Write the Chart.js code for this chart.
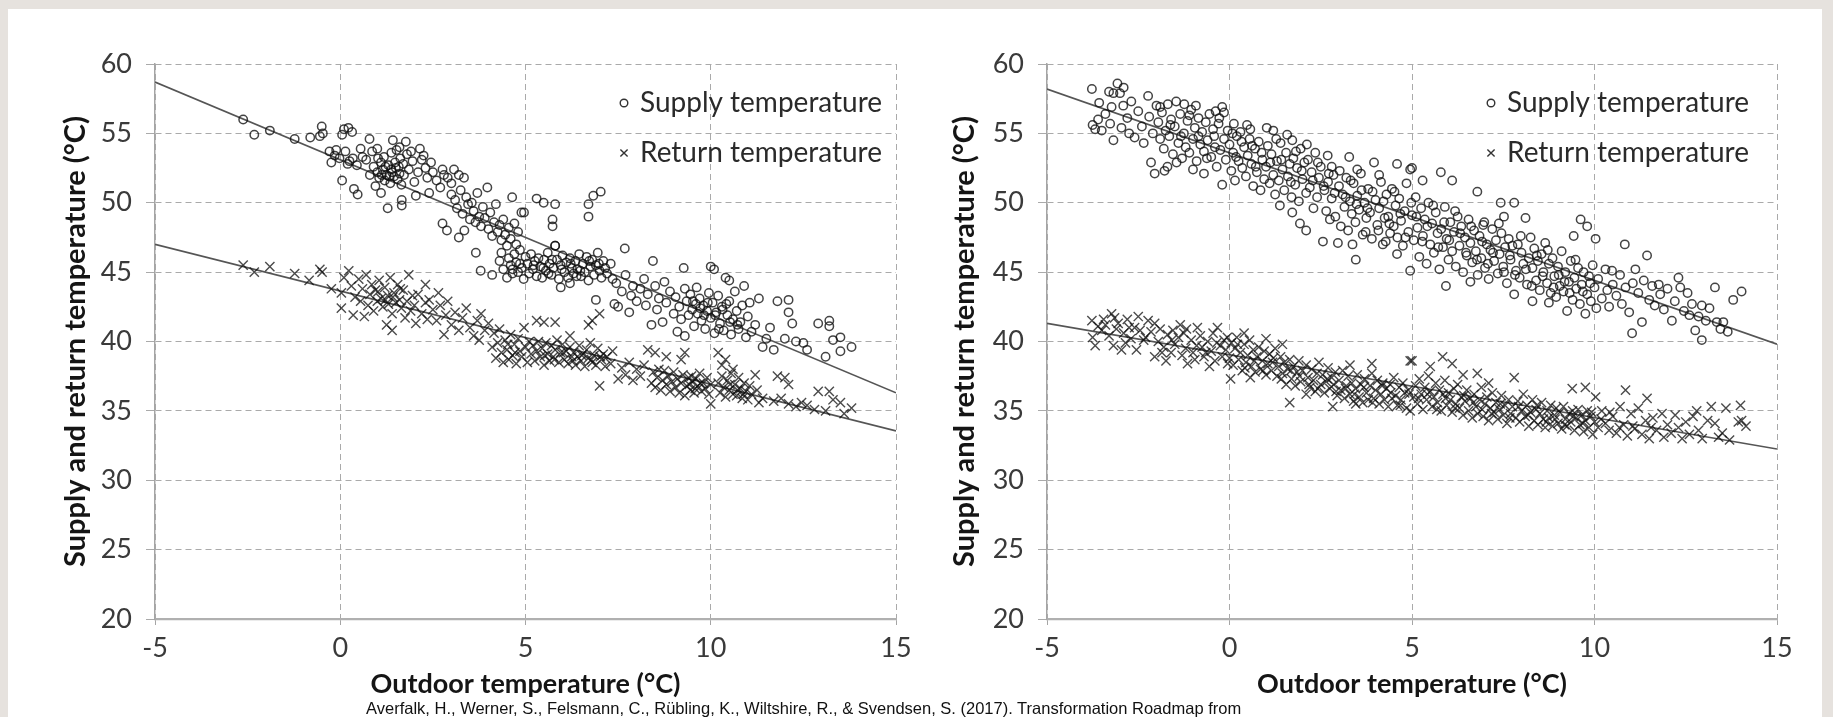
<!DOCTYPE html>
<html>
<head>
<meta charset="utf-8">
<script src="https://cdn.jsdelivr.net/npm/chart.js@4.4.1/dist/chart.umd.min.js"></script>
<style>
  html, body { margin: 0; padding: 0; }
  body { width: 1833px; height: 717px; overflow: hidden; background: #e6e2de; position: relative; }
  #panel { position: absolute; left: 8px; top: 9px; width: 1814px; height: 720px; background: #fff; }
  canvas { position: absolute; left: 0; top: 0; }
  #caption { position: absolute; left: 366px; top: 699px; font: 16.5px "Liberation Sans", Arial, sans-serif; color: #111; white-space: nowrap; }
</style>
</head>
<body>
<div id="panel"></div>
<canvas id="leftChart" width="1833" height="717"></canvas>
<canvas id="rightChart" width="1833" height="717"></canvas>
<div id="caption">Averfalk, H., Werner, S., Felsmann, C., Rübling, K., Wiltshire, R., &amp; Svendsen, S. (2017). Transformation Roadmap from</div>
<script>
// 軸の目盛り
const xTicks = [-5, 0, 5, 10, 15];
const yTicks = [20, 25, 30, 35, 40, 45, 50, 55, 60];
const seriesNames = ['Supply temperature', 'Return temperature'];

// 左のグラフ: 供給温度 (外気温, 温度)
const leftSupply = [
  [-2.62,56.0],[-2.32,54.9],[-1.9,55.2],[-1.23,54.6],[-0.81,54.7],[-0.5,55.5],[-0.47,55.0],[-0.55,54.8],
  [0.05,54.9],[0.22,55.4],[0.32,55.1],[0.1,55.3],[-0.29,53.7],[-0.11,53.8],[-0.24,52.9],[-0.02,53.2],[0.14,53.7],
  [0.34,53.2],[0.55,53.9],[0.79,54.6],[0.86,53.7],[0.2,52.8],[0.45,52.7],[-0.15,53.4],[0.05,51.6],[0.37,51.0],
  [0.47,50.6],[0.25,53.0],[0.6,53.3],
  [0.7,53.1],[0.9,52.6],[1.0,52.2],[1.05,51.8],[1.1,52.9],[1.15,52.4],[1.2,51.6],[1.25,52.0],[1.3,52.7],[1.35,51.4],
  [1.4,52.2],[1.42,54.5],[1.45,51.9],[1.5,52.5],[1.55,51.7],[1.6,52.1],[1.62,53.2],[1.65,51.3],[1.7,52.8],[1.72,52.0],
  [1.77,54.4],[1.8,53.5],[1.85,52.4],[1.91,53.7],[1.95,53.0],[1.28,49.6],[1.66,50.2],[1.66,49.8],[1.1,50.7],[0.95,51.2],
  [1.38,53.6],[1.0,53.9],[1.18,53.3],[1.52,53.8],[0.8,52.0],[1.6,54.0],
  [1.12,52.0],[1.32,51.9],[1.48,52.9],[1.22,52.6],[1.58,52.6],[1.38,52.4],[1.02,53.2],
  [2.04,50.5],[2.4,50.7],[2.0,51.5],[2.1,52.2],[2.2,53.1],[2.3,52.5],[2.45,52.9],[2.35,51.8],[2.5,52.2],[2.76,52.4],
  [3.07,52.4],[2.6,51.6],[2.7,51.1],[2.9,51.8],[2.8,52.0],[3.0,51.4],[3.2,52.0],[3.34,51.8],[2.15,53.9],[2.25,53.4],
  [2.76,48.5],[2.88,48.0],[3.0,50.6],[3.1,50.2],[3.15,49.6],[3.25,50.9],[3.3,49.2],[3.4,50.4],[3.45,49.9],[3.5,48.8],
  [3.55,50.0],[3.6,49.4],[3.65,48.6],[3.7,50.7],[3.75,49.0],[3.8,48.3],[3.85,49.7],[3.9,48.9],[3.97,51.1],[4.0,48.1],
  [4.05,49.3],[4.1,47.6],[4.15,48.6],[4.2,49.9],[4.25,47.9],[4.3,48.4],[4.35,47.3],[4.4,48.8],[4.45,47.7],[4.5,46.9],
  [4.55,48.2],[4.64,50.4],[4.6,47.4],[4.7,48.5],[4.89,49.3],[4.75,47.0],[4.8,47.9],[3.2,47.5],[3.35,48.0],
  [3.66,46.4],[3.79,45.1],[4.1,44.8],[4.3,45.8],[4.35,46.4],[4.4,45.2],[4.5,44.6],[4.55,46.0],[4.6,45.5],[4.65,44.9],
  [4.7,46.3],[4.75,45.7],[4.8,45.0],[4.85,46.6],[4.9,45.3],[4.95,44.5],[5.0,46.1],[5.05,45.6],[5.1,44.9],
  [4.65,45.2],[4.85,45.6],
  [5.15,46.3],[5.2,45.2],[5.25,45.8],[5.3,44.7],[5.35,46.0],[5.4,45.4],[5.45,44.6],[5.5,45.9],[5.55,45.1],[5.6,46.4],
  [5.65,45.6],[5.7,44.8],[5.75,45.3],[5.8,46.9],[5.85,45.9],[5.9,44.5],[5.95,45.5],[6.0,46.2],[6.05,45.0],[6.1,45.7],
  [6.15,44.6],[6.2,46.0],[6.25,45.3],[6.3,44.9],[6.35,45.8],[6.4,45.2],[6.45,46.3],[6.5,44.7],[6.55,45.6],[6.6,45.0],
  [6.65,46.1],[6.7,44.4],[6.75,45.4],[6.8,45.9],[6.85,44.8],[6.9,45.5],[6.95,46.4],[7.0,45.1],[7.05,44.6],[7.1,45.8],
  [7.15,45.3],[7.2,44.9],[7.3,45.6],[7.35,44.5],[6.2,44.2],[5.95,43.9],
  [5.22,45.5],[5.48,45.3],[5.72,45.9],[5.98,45.2],[6.22,45.6],[6.48,45.1],[6.72,45.8],[6.98,45.6],[6.38,44.7],[5.62,44.9],
  [5.3,50.3],[5.49,50.0],[5.8,49.9],[5.73,48.8],[5.73,48.3],[6.7,49.0],[6.7,49.9],[6.83,50.5],[7.03,50.8],[7.68,46.7],
  [4.96,49.3],[5.8,46.9],
  [6.9,43.0],[7.4,42.7],[7.5,42.5],[7.8,42.1],[7.45,44.2],[7.6,43.6],[7.7,44.8],[7.85,43.3],[7.9,44.0],[8.0,42.9],
  [8.1,43.8],[8.2,44.5],[8.25,42.6],[8.3,43.4],[8.44,45.8],[8.4,41.2],[8.5,44.0],[8.55,42.3],[8.6,43.1],[8.7,41.4],
  [8.75,44.3],[8.8,42.8],
  [8.9,43.6],[9.0,42.0],[9.05,43.2],[9.1,40.7],[9.15,42.5],[9.2,41.6],[9.27,45.3],[9.3,40.4],[9.3,43.8],[9.35,42.9],
  [9.4,41.9],[9.45,43.4],[9.5,42.3],[9.55,41.1],[9.6,42.7],[9.62,43.9],[9.65,42.0],[9.7,43.1],[9.75,41.5],[9.8,42.6],
  [9.85,40.9],[9.9,42.2],[9.95,43.5],[10.0,45.4],[10.09,45.2],[10.0,41.7],[10.05,42.8],[10.1,40.6],[10.15,42.1],
  [10.2,43.3],[10.25,41.3],[10.3,42.5],[10.35,40.8],[10.4,44.6],[10.5,44.4],[10.45,41.9],[10.5,42.9],[10.55,40.5],
  [10.6,41.6],[10.65,43.6],[10.7,42.2],[10.75,40.9],[10.8,41.4],[10.9,44.0],[10.85,42.6],[10.95,40.3],[11.0,41.8],
  [11.05,42.8],[11.1,40.7],[11.2,41.2],[11.3,43.1],[11.4,39.6],[11.5,40.2],[11.7,39.4],
  [9.52,42.9],[9.72,42.4],[9.92,42.8],[10.12,41.9],[10.32,42.3],[10.52,41.4],[10.72,41.2],[9.82,41.9],[10.42,42.7],
  [10.22,40.9],
  [11.8,42.9],[12.1,43.0],[12.1,42.1],[12.0,40.2],[12.3,40.0],[12.5,39.9],[12.6,39.4],[12.9,41.3],[13.2,41.5],
  [13.2,41.1],[13.3,40.1],[13.5,40.3],[13.5,39.3],[13.8,39.6],[13.1,38.9],[11.6,41.0],[12.2,41.3]
];

// 左のグラフ: 戻り温度
const leftReturn = [
  [-2.62,45.5],[-2.32,45.0],[-1.9,45.4],[-1.23,44.9],[-0.84,44.4],[-0.49,45.0],[-0.55,45.2],[-0.24,43.8],
  [0.03,43.5],[0.03,42.4],[0.23,45.1],[0.1,44.6],[0.3,44.0],[0.4,43.2],[0.5,44.5],[0.55,42.9],[0.6,43.8],[0.65,41.8],
  [0.7,44.8],[0.75,42.6],[0.8,43.4],[0.85,44.1],[0.9,42.2],[0.95,43.7],[1.0,42.9],[1.05,44.4],[1.1,43.1],[1.15,42.5],
  [1.2,43.9],[1.25,41.2],[1.28,43.3],[1.3,42.7],[1.35,44.6],[1.4,42.0],[1.45,43.5],[1.5,42.8],[1.55,44.1],[1.6,43.0],
  [1.65,42.4],[1.7,43.7],[1.75,41.7],[1.8,42.9],[1.85,44.8],[1.9,42.2],[1.95,43.3],[2.04,41.3],[2.0,42.6],
  [1.02,43.6],[1.22,43.0],[1.42,43.2],[1.62,43.8],
  [2.1,43.4],[2.2,42.0],[2.3,42.8],[2.35,41.6],[2.4,43.0],[2.5,42.3],[2.6,41.5],[2.7,42.6],[2.8,40.5],[2.85,41.9],
  [2.9,42.9],[3.0,41.2],[3.1,42.1],[3.2,40.8],[3.3,41.7],[3.4,42.4],[3.5,41.0],[3.6,40.4],[3.7,41.5],[3.75,40.1],
  [3.8,42.0],[3.9,40.8],[4.0,41.3],[2.3,44.1],[2.65,43.5],[0.35,41.9],[1.4,40.8],
  [4.1,39.6],[4.15,40.6],[4.2,38.8],[4.25,39.9],[4.3,40.9],[4.35,39.2],[4.4,38.5],[4.45,40.1],[4.5,39.4],[4.55,38.7],
  [4.6,40.5],[4.65,39.0],[4.7,39.8],[4.75,38.4],[4.8,40.2],[4.85,39.3],[4.9,38.9],[4.96,41.0],[5.0,39.6],[5.05,38.5],
  [5.1,40.0],[5.15,39.1],[4.52,39.8],[4.72,39.2],
  [5.3,41.5],[5.5,41.4],[5.8,41.4],[6.7,41.2],[6.8,41.5],[7.0,42.0],[6.2,40.4],
  [5.2,39.7],[5.25,38.6],[5.3,39.3],[5.35,40.0],[5.4,38.9],[5.45,39.5],[5.5,38.3],[5.55,39.9],[5.6,39.1],[5.65,38.6],
  [5.7,39.7],[5.75,38.9],[5.8,39.4],[5.85,40.1],[5.9,38.5],[5.95,39.2],[6.0,39.8],[6.05,38.7],[6.1,39.3],[6.15,38.4],
  [6.2,39.6],[6.25,38.9],[6.3,39.2],[6.35,38.3],[6.4,38.9],[6.45,39.7],[6.5,38.6],[6.55,39.1],[6.6,38.2],[6.65,39.4],
  [6.7,38.8],[6.75,39.9],[6.8,38.5],[6.85,39.0],[6.9,38.3],[6.95,39.5],[7.0,36.8],[7.05,38.7],[7.1,39.1],[7.15,38.2],
  [7.2,38.9],[7.3,38.4],[7.5,37.3],[7.35,39.3],
  [5.52,39.0],[5.78,38.7],[6.02,39.2],[6.28,38.6],[6.52,39.0],[6.78,38.7],[7.02,38.9],
  [7.6,38.1],[7.7,37.6],[7.8,38.5],[7.9,37.2],[8.0,38.0],[8.1,37.5],[8.2,38.3],[8.3,39.4],[8.5,39.2],[8.8,38.9],
  [9.2,38.7],[9.3,39.2],[8.4,37.0],[8.45,37.8],[8.5,36.7],[8.55,37.4],[8.6,38.0],[8.65,36.5],[8.7,37.2],[8.75,37.9],
  [8.8,36.9],[8.85,37.5],[8.9,36.4],[8.95,37.1],[9.0,37.8],[9.05,36.7],[9.1,37.3],[9.15,36.3],[9.2,37.0],[9.25,37.6],
  [9.3,36.1],[9.35,36.8],[9.4,37.4],[9.45,36.5],[9.5,37.1],[9.55,36.3],[9.6,37.3],[9.65,36.8],[9.7,37.7],[9.75,36.4],
  [9.8,37.0],[9.85,36.6],[9.9,37.4],[9.95,36.2],[10.0,35.5],[10.0,36.9],
  [9.42,36.9],[9.58,36.6],[9.72,37.0],[9.48,37.5],
  [10.2,39.2],[10.4,38.7],[10.2,37.0],[10.25,36.3],[10.3,37.5],[10.35,36.7],[10.4,36.0],[10.45,37.2],[10.5,36.5],
  [10.55,37.7],[10.6,36.2],[10.65,36.9],[10.7,36.1],[10.75,37.4],[10.8,36.6],[10.85,35.9],[10.9,37.0],[10.95,36.4],
  [11.0,35.8],[11.05,36.8],[11.1,36.2],[11.2,37.6],[11.3,35.6],[11.25,36.5],[11.4,35.9],[10.3,38.3],[10.6,38.0],
  [10.52,36.9],[10.72,36.5],[10.88,36.2],
  [11.7,35.7],[11.8,37.5],[12.0,37.4],[12.1,36.9],[12.1,35.5],[12.3,35.3],[12.6,35.4],[12.45,35.6],[12.9,36.4],
  [13.2,36.4],[13.3,35.8],[13.5,35.6],[13.8,35.2],[13.1,35.0],[13.6,34.8],[12.8,35.1],[11.9,35.9]
];

// 右のグラフ: 供給温度
const rightSupply = [
  [-3.77,58.2],[-3.07,58.6],[-3.18,57.9],[-3.0,57.9],[-3.57,57.2],[-3.23,56.9],[-2.91,57.0],[-2.69,57.3],[-2.23,57.7],
  [-3.68,55.3],[-3.5,55.2],[-3.18,54.5],[-2.6,54.7],[-3.6,56.0],[-3.27,55.7],[-2.96,55.4],[-3.4,56.4],[-2.8,56.1],
  [-2.5,56.6],[-2.4,55.5],[-2.2,56.2],[-2.1,55.0],[-2.35,54.3],[-2.0,57.0],[-2.9,58.3],[-3.3,58.0],[-2.75,55.0],
  [-3.75,55.6],[-2.15,52.9],[-2.05,52.1],[-1.78,52.3],
  [-1.95,55.8],[-1.9,54.6],[-1.85,56.5],[-1.8,53.9],[-1.75,55.2],[-1.69,57.1],[-1.65,54.8],[-1.6,56.0],[-1.55,53.5],
  [-1.5,55.5],[-1.46,57.3],[-1.4,54.3],[-1.35,56.4],[-1.3,53.2],[-1.25,55.0],[-1.24,57.1],[-1.2,54.0],[-1.15,55.9],
  [-1.1,53.6],[-1.05,56.7],[-1.0,54.6],[-0.95,55.4],[-0.92,57.0],[-0.9,53.0],[-0.85,56.1],[-0.8,54.2],[-0.75,55.1],
  [-0.7,52.1],[-0.7,53.7],[-0.65,55.8],[-0.6,54.5],[-0.55,56.4],[-0.5,53.3],[-0.45,55.3],[-0.4,54.0],[-0.38,56.6],
  [-0.35,52.6],[-0.3,55.7],[-0.25,53.8],[-0.2,56.9],[-0.2,51.3],[-0.15,56.5],[-0.15,54.6],[-0.1,53.1],[-0.05,55.2],
  [-1.7,52.6],[-1.45,52.9],[-1.0,52.4],
  [-1.9,56.9],[-1.62,55.6],[-1.33,54.8],[-1.1,56.3],[-0.85,54.8],[-0.62,53.2],[-0.42,54.8],[-0.28,56.1],
  [0.0,54.2],[0.05,52.3],[0.1,53.6],[0.12,55.7],[0.15,51.6],[0.2,54.8],[0.25,53.0],[0.3,55.1],[0.35,52.5],[0.4,54.0],
  [0.45,51.9],[0.5,53.4],[0.55,54.6],[0.57,55.3],[0.6,52.8],[0.65,51.2],[0.7,53.9],[0.75,52.2],[0.8,54.4],[0.85,50.9],
  [0.9,53.1],[0.95,51.7],[1.0,52.6],[1.05,54.1],[1.1,51.4],[1.15,53.5],[1.2,55.2],[1.2,52.0],[1.25,50.6],[1.3,53.0],
  [1.35,51.6],[1.38,49.8],[1.4,54.3],[1.45,52.4],[1.5,50.9],[1.55,53.6],[1.6,51.9],[1.65,52.8],[1.7,50.4],[1.72,54.5],
  [1.72,49.3],[1.75,53.2],[1.8,51.3],[1.85,52.5],[1.9,50.1],[1.93,48.5],[1.95,53.9],[2.0,51.7],[2.05,52.9],[2.1,48.0],
  [2.1,50.7],[2.15,53.1],[2.2,51.1],[2.25,52.2],[2.3,49.6],[2.35,53.6],[2.4,50.4],[2.45,51.8],[2.5,52.6],
  [0.08,55.0],[0.18,53.3],[0.33,54.4],[0.48,55.6],[0.62,54.1],[0.72,52.6],[0.88,53.6],[1.02,55.4],[1.12,52.9],
  [1.28,54.6],[1.42,53.1],[1.58,54.9],[1.68,51.5],[1.82,53.7],[1.98,52.3],[2.12,54.2],[2.28,51.6],[2.42,52.9],
  [2.56,47.2],[2.6,50.9],[2.65,49.4],[2.69,53.4],[2.7,51.5],[2.75,48.8],[2.8,50.3],[2.85,52.0],[2.9,49.0],[2.97,47.1],
  [3.0,51.2],[3.05,48.3],[3.1,50.6],[3.15,49.7],[3.2,51.8],[3.25,48.0],[3.28,53.3],[3.3,50.1],[3.35,49.2],[3.37,47.0],
  [3.4,51.4],[3.45,48.6],[3.46,45.9],[3.5,50.5],[3.55,49.5],[3.6,52.1],[3.65,47.7],[3.7,50.0],[3.73,47.9],[3.75,48.9],
  [3.8,51.0],[3.85,49.3],[3.9,47.4],[3.96,52.9],[4.0,50.2],[4.05,48.4],[4.1,49.6],[4.15,51.5],[4.2,47.0],[4.25,48.9],
  [4.28,47.2],[4.3,50.6],[4.35,49.0],[4.4,47.8],[4.45,51.0],[4.5,48.3],[4.55,49.8],[4.59,52.8],[4.59,46.3],[4.6,47.5],
  [4.65,50.3],[4.7,48.7],[4.75,46.9],[4.8,49.4],[4.85,51.4],[4.9,47.9],[4.95,52.4],[4.95,45.1],[5.0,52.5],[5.0,49.1],
  [2.8,52.6],[3.5,52.4],[4.1,52.0],
  [2.58,51.2],[2.72,52.1],[2.88,50.7],[3.02,52.3],[3.18,50.4],[3.32,51.6],[3.48,49.9],[3.62,50.9],[3.78,49.6],
  [3.92,50.8],[4.08,48.0],[4.22,50.1],[4.38,48.5],[4.52,50.8],[4.68,49.2],[4.82,47.5],[4.98,50.0],
  [5.05,47.3],[5.1,50.4],[5.15,48.2],[5.2,46.1],[5.25,49.6],[5.29,51.6],[5.3,47.6],[5.35,48.8],[5.4,45.6],[5.45,50.0],
  [5.5,47.0],[5.55,48.5],[5.6,46.4],[5.65,49.3],[5.7,47.8],[5.75,45.2],[5.79,52.2],[5.8,48.1],[5.85,46.8],[5.9,49.7],
  [5.93,44.0],[5.95,47.4],[6.0,45.9],[6.05,48.6],[6.1,51.6],[6.1,46.5],[6.15,47.9],[6.2,45.4],[6.25,49.0],[6.3,46.9],
  [6.35,48.3],[6.4,45.0],[6.45,47.5],[6.5,46.2],[6.55,48.8],[6.6,44.3],[6.6,47.1],[6.65,45.7],[6.7,48.0],[6.75,46.5],
  [6.79,50.8],[6.8,44.8],[6.85,47.6],[6.9,46.0],[6.95,48.4],[6.98,48.6],[7.0,45.3],[7.05,47.0],[7.1,44.5],[7.15,46.6],
  [7.2,48.1],[7.25,45.8],[7.3,47.3],[7.35,44.9],[7.43,50.0],[7.4,46.3],[7.45,47.8],[7.5,45.4],[7.52,49.0],[7.55,46.8],
  [7.6,44.2],[7.65,47.4],[7.7,45.9],[7.75,46.9],[7.8,50.0],[7.8,43.4],[7.85,45.1],[7.9,47.0],[7.95,44.6],[8.0,46.4],
  [8.05,45.6],[8.11,48.9],[8.15,44.1],[8.2,46.0],[8.25,47.5],[8.3,42.9],[8.3,45.3],[8.35,46.7],[8.4,44.4],[8.45,45.8],
  [8.5,43.7],[8.55,46.3],[8.6,45.0],[8.65,47.1],[8.7,44.2],[8.75,42.8],[8.75,45.6],[8.8,43.5],[8.85,46.0],[8.9,44.7],
  [8.95,43.2],[9.0,45.4],[9.05,44.0],[9.1,46.5],[9.15,43.6],[9.2,45.0],[9.25,42.2],[9.3,44.3],[9.35,45.8],[9.4,43.0],
  [9.43,47.6],[9.45,44.6],[9.5,43.8],[9.55,45.3],[9.62,48.8],[9.6,42.7],[9.65,44.1],[9.7,45.0],[9.75,42.0],[9.8,48.3],
  [9.8,43.4],[9.85,44.7],[9.9,42.9],[9.95,45.5],[10.0,43.9],[10.03,47.4],[10.05,42.4],
  [5.12,49.0],[5.28,47.2],[5.42,48.3],[5.58,49.8],[5.72,46.8],[5.88,48.6],[6.02,47.3],[6.18,49.4],[6.32,47.8],
  [6.48,46.4],[6.62,48.3],[6.78,45.9],[6.92,47.2],[7.08,45.6],[7.22,46.4],[7.38,48.5],[7.52,45.0],[7.68,46.2],
  [7.82,44.8],[7.98,47.6],[8.12,45.2],[8.28,44.0],[8.42,46.2],[8.58,44.7],[8.72,46.6],[8.88,43.9],[9.02,44.8],
  [9.18,44.3],[9.32,43.5],[9.48,45.9],[9.68,43.6],[9.88,44.2],
  [10.1,44.5],[10.2,43.1],[10.3,45.2],[10.35,43.7],[10.4,42.5],[10.48,45.1],[10.5,44.1],[10.6,43.3],[10.7,44.8],
  [10.75,42.7],[10.83,47.0],[10.85,43.9],[10.95,42.1],[11.03,40.6],[11.05,44.2],[11.12,45.2],[11.2,43.5],[11.3,41.4],
  [11.35,44.4],[11.44,46.2],[11.5,43.0],[11.58,44.0],[11.65,42.6],[11.76,44.1],[11.8,43.4],[11.9,42.3],[12.0,43.8],
  [12.12,41.5],[12.2,42.9],[12.3,44.6],[12.35,43.9],[12.45,42.2],[12.55,43.5],[12.67,42.7],[12.76,40.8],[12.85,41.8],
  [12.94,42.6],[12.94,40.1],[13.05,41.5],[13.15,42.4],[13.3,43.9],[13.35,41.4],[13.53,41.4],[13.65,40.7],[13.8,43.0],
  [14.03,43.6],[13.45,40.9],[12.6,41.9]
];

// 右のグラフ: 戻り温度
const rightReturn = [
  [-3.77,41.5],[-3.23,42.0],[-3.05,41.3],[-3.68,39.7],[-3.18,39.7],[-2.96,39.4],[-2.55,39.4],[-2.23,41.5],[-2.6,41.0],
  [-3.5,40.8],[-3.4,41.2],[-3.3,40.4],[-3.1,40.9],[-2.9,40.6],[-2.8,41.6],[-2.7,40.2],[-2.45,40.8],[-2.35,40.1],
  [-2.15,40.7],[-3.6,41.1],[-2.5,41.8],[-2.05,41.3],[-3.75,40.3],[-2.85,39.9],
  [-3.45,41.6],[-3.15,41.7],[-2.75,41.0],[-2.3,40.3],
  [-2.05,38.9],[-1.74,38.6],[-1.15,38.4],[-0.88,41.0],[-0.33,41.0],[-0.06,40.3],[-1.95,40.0],[-1.9,40.9],[-1.8,39.6],
  [-1.7,40.5],[-1.6,39.2],[-1.55,40.8],[-1.5,39.8],[-1.4,40.3],[-1.3,39.0],[-1.25,40.6],[-1.2,39.5],[-1.05,40.1],
  [-1.0,39.2],[-0.95,38.7],[-0.8,40.4],[-0.75,39.6],[-0.7,38.9],[-0.6,40.0],[-0.5,39.3],[-0.45,40.6],[-0.4,38.6],
  [-0.25,39.7],[-0.2,38.9],[-0.15,40.1],[-0.1,39.4],[-1.35,41.2],[-0.55,38.2],
  [-1.85,39.2],[-1.58,40.1],[-1.18,40.9],[-0.9,39.7],[-0.65,39.2],[-0.35,39.9],[-0.05,38.4],
  [0.03,37.3],[0.57,37.4],[0.0,38.8],[0.05,39.9],[0.1,38.3],[0.15,39.5],[0.2,40.3],[0.25,38.7],[0.3,39.2],[0.35,37.9],
  [0.4,39.8],[0.45,38.5],[0.5,39.0],[0.55,40.1],[0.6,38.2],[0.65,39.4],[0.7,37.8],[0.75,38.9],[0.8,39.6],[0.85,38.0],
  [0.9,38.6],[0.95,39.3],[1.0,37.6],[1.05,38.4],[1.1,39.1],[1.15,37.9],[1.2,38.8],[1.25,39.5],[1.3,37.5],[1.35,38.2],
  [1.4,38.9],[1.45,37.7],[1.5,38.5],[1.55,36.9],[1.6,38.0],[1.65,35.6],[1.65,38.7],[1.7,37.3],[1.75,38.2],[1.8,36.8],
  [1.85,37.8],[1.9,38.6],[1.95,37.1],[2.0,37.9],[2.1,36.2],[2.1,38.3],[2.15,37.4],[2.2,36.7],[2.25,38.0],[2.3,37.2],
  [2.35,36.4],[2.4,37.7],[2.45,38.5],[2.5,36.9],[0.4,40.6],[1.0,40.2],[1.45,39.8],
  [0.22,39.8],[0.42,38.1],[0.68,38.6],[0.92,37.9],[1.18,38.5],[1.42,37.3],[1.68,37.9],[1.92,37.5],[2.18,36.9],
  [2.42,36.6],
  [2.55,37.6],[2.6,36.3],[2.65,37.1],[2.7,38.1],[2.75,36.6],[2.8,37.4],[2.83,35.3],[2.85,36.9],[2.9,37.8],[2.95,36.1],
  [3.0,37.2],[3.05,36.5],[3.1,37.9],[3.15,35.9],[3.2,36.8],[3.25,37.5],[3.3,36.2],[3.35,37.0],[3.4,35.7],[3.46,35.5],
  [3.45,36.6],[3.5,37.6],[3.55,36.0],[3.6,36.9],[3.65,35.6],[3.7,37.3],[3.75,36.3],[3.8,35.8],[3.85,36.8],[3.9,37.7],
  [3.95,35.9],[4.0,36.5],[4.05,37.2],[4.1,35.5],[4.15,36.2],[4.2,37.0],[4.25,35.8],[4.3,36.6],[4.35,35.3],[4.4,36.9],
  [4.45,35.9],[4.5,37.4],[4.55,36.1],[4.6,35.4],[4.65,36.7],[4.7,35.8],[4.75,37.0],[4.8,36.3],[4.85,35.2],[4.9,36.5],
  [4.95,35.0],[4.95,38.6],[3.3,38.3],[3.9,38.4],
  [2.68,37.3],[2.92,36.4],[3.18,36.6],[3.42,36.2],[3.68,36.7],[3.92,35.6],[4.18,36.8],[4.42,36.3],[4.68,35.4],[4.92,36.2],
  [5.0,38.6],[5.84,38.9],[6.1,38.4],[6.79,37.7],[7.8,37.4],[5.05,36.0],[5.1,36.8],[5.15,35.5],[5.2,37.3],[5.25,36.2],
  [5.3,35.1],[5.35,36.7],[5.4,35.8],[5.45,37.5],[5.5,36.4],[5.55,35.3],[5.6,36.0],[5.65,37.0],[5.7,35.6],[5.75,36.5],
  [5.8,35.0],[5.85,36.2],[5.9,37.2],[5.95,35.4],[6.0,36.3],[6.05,35.8],[6.1,34.9],[6.15,36.6],[6.2,35.5],[6.25,36.9],
  [6.3,35.2],[6.35,36.0],[6.4,34.7],[6.45,35.7],[6.5,36.5],[6.55,35.0],[6.6,35.9],[6.65,34.5],[6.7,36.2],[6.75,35.3],
  [6.8,34.8],[6.85,35.8],[6.9,36.7],[6.95,34.6],[7.0,35.5],[7.05,36.0],[7.1,34.3],[7.15,35.2],[7.2,36.3],[7.25,34.9],
  [7.3,35.6],[7.35,34.4],[7.4,35.1],[7.45,36.1],[7.5,34.7],[7.55,35.4],[7.6,34.1],[7.65,35.8],[7.7,34.8],[7.75,35.3],
  [7.85,34.5],[7.9,35.7],[7.95,34.2],[8.0,35.0],[8.05,36.2],[8.1,34.6],[8.15,35.4],[8.2,33.9],[8.25,34.9],[8.3,35.8],
  [8.35,34.3],[8.4,35.1],[8.45,34.0],[8.5,34.8],[8.55,35.6],[8.6,34.4],[8.65,33.8],[8.7,35.0],[8.75,34.5],[8.8,35.4],
  [8.85,33.9],[8.9,34.7],[8.95,35.2],[9.0,34.1],[9.05,34.9],[9.1,33.7],[9.15,35.3],[9.2,34.4],[9.25,33.9],[9.3,34.8],
  [9.39,36.6],[9.35,34.2],[9.4,35.0],[9.45,33.6],[9.5,34.5],[9.55,35.1],[9.6,34.0],[9.65,34.7],[9.7,33.5],[9.75,36.7],
  [9.75,34.3],[9.8,35.0],[9.85,33.8],[9.9,34.6],[9.95,33.3],[10.03,36.0],[10.0,34.2],[6.4,37.6],[7.1,37.0],[5.5,38.2],
  [5.18,35.9],[5.42,36.2],[5.68,35.1],[5.92,35.9],[6.18,35.2],[6.42,36.1],[6.68,35.6],[6.92,35.1],[7.18,34.8],
  [7.42,35.5],[7.68,34.5],[7.92,35.3],[8.18,34.7],[8.42,35.4],[8.68,34.2],[8.92,34.4],[9.18,34.0],[9.42,34.6],
  [9.68,34.1],[9.92,34.9],
  [10.1,33.8],[10.2,35.0],[10.3,34.1],[10.4,33.6],[10.5,34.6],[10.6,33.4],[10.7,35.3],[10.85,36.5],[10.8,34.0],
  [10.9,33.2],[11.0,34.8],[11.1,33.7],[11.2,35.2],[11.3,33.3],[11.44,35.9],[11.4,34.3],[11.5,33.0],[11.6,34.5],
  [11.7,33.6],[11.85,34.8],[11.9,33.1],[12.0,34.0],[12.1,33.4],[12.21,34.7],[12.3,33.8],[12.4,33.0],[12.5,34.2],
  [12.6,33.3],[12.7,34.6],[12.85,33.6],[12.95,33.0],[13.1,34.3],[13.3,34.1],[13.4,33.1],[13.5,33.4],[13.7,32.9],
  [13.94,34.2],[14.03,34.3],[14.15,33.9],[12.8,35.0],[13.2,35.3],[13.6,35.2],[14.0,35.4],
  [10.18,34.4],[10.42,34.9],[10.68,33.8],[11.05,33.9],[11.55,33.8]
];

// 回帰直線の両端
const leftSupplyTrend = [[-5, 58.7], [15, 36.3]];
const leftReturnTrend = [[-5, 47.0], [15, 33.55]];
const rightSupplyTrend = [[-5, 58.2], [15, 39.8]];
const rightReturnTrend = [[-5, 41.3], [15, 32.25]];

const toXY = arr => arr.map(p => ({ x: p[0], y: p[1] }));

// 凡例をグラフの中に描く
const insideLegend = {
  id: 'insideLegend',
  afterDraw(chart, args, opts) {
    const { ctx, chartArea } = chart;
    ctx.save();
    ctx.font = opts.font;
    ctx.fillStyle = opts.color;
    ctx.textBaseline = 'middle';
    ctx.textAlign = 'left';
    opts.styles.forEach((st, i) => {
      const tx = chartArea.left + opts.x;
      const ty = chartArea.top + opts.y + i * opts.lineGap;
      const mx = tx - 16;
      ctx.strokeStyle = opts.markColor;
      ctx.lineWidth = 1.4;
      ctx.beginPath();
      if (st === 'circle') {
        ctx.arc(mx, ty, 3.8, 0, Math.PI * 2);
      } else {
        const r = 3.6;
        ctx.moveTo(mx - r, ty - r); ctx.lineTo(mx + r, ty + r);
        ctx.moveTo(mx + r, ty - r); ctx.lineTo(mx - r, ty + r);
      }
      ctx.stroke();
      ctx.fillText(chart.data.datasets[i].label, tx, ty);
    });
    ctx.restore();
  }
};

const tickFont = { family: 'Lato', size: 27 };
const xTitleFont = { family: 'Lato', size: 27, weight: 'bold' };
const yTitleFont = { family: 'Lato', size: 29, weight: 'bold' };

function makeConfig(supply, ret, supplyTrend, retTrend, side) {
  return {
    type: 'scatter',
    data: {
      datasets: [
        {
          label: seriesNames[0],
          data: toXY(supply),
          pointStyle: 'circle',
          pointRadius: 4.2,
          pointBorderWidth: 1.5,
          borderColor: 'rgba(15,15,15,0.78)',
          backgroundColor: 'rgba(0,0,0,0)',
        },
        {
          label: seriesNames[1],
          data: toXY(ret),
          pointStyle: 'crossRot',
          pointRadius: 6.5,
          pointBorderWidth: 1.4,
          borderColor: 'rgba(15,15,15,0.75)',
          backgroundColor: 'rgba(0,0,0,0)',
        },
        {
          label: 'supply trend',
          data: toXY(supplyTrend),
          showLine: true,
          pointRadius: 0,
          borderColor: '#555',
          borderWidth: 1.7,
        },
        {
          label: 'return trend',
          data: toXY(retTrend),
          showLine: true,
          pointRadius: 0,
          borderColor: '#555',
          borderWidth: 1.7,
        },
      ],
    },
    options: {
      responsive: false,
      animation: false,
      devicePixelRatio: 1,
      layout: { padding: side.padding },
      plugins: {
        legend: { display: false },
        tooltip: { enabled: false },
        insideLegend: {
          x: side.legendX, y: 39, lineGap: 50,
          font: '28px Lato', color: '#2a2a2a', markColor: '#333',
          styles: ['circle', 'cross'],
        },
      },
      scales: {
        x: {
          type: 'linear',
          min: xTicks[0],
          max: xTicks[xTicks.length - 1],
          afterBuildTicks: s => { s.ticks = xTicks.map(v => ({ value: v })); },
          ticks: { font: tickFont, color: '#3a3a3a', padding: 7 },
          grid: { color: '#aaaaaa', lineWidth: 1, tickLength: 6, tickColor: '#a5a5a5' },
          border: { color: '#b0b0b0', width: 2.2, dash: [6, 4] },
          title: { display: true, text: 'Outdoor temperature (°C)', font: xTitleFont, color: '#151515', padding: { top: 0, bottom: 17 } },
          afterFit: s => { s.height = 98; },
        },
        y: {
          type: 'linear',
          min: yTicks[0],
          max: yTicks[yTicks.length - 1],
          afterBuildTicks: s => { s.ticks = yTicks.map(v => ({ value: v })); },
          ticks: { font: tickFont, color: '#3a3a3a', padding: 14 },
          grid: { color: '#aaaaaa', lineWidth: 1, tickLength: 9, tickColor: '#aaaaaa' },
          border: { color: '#a5a5a5', width: 1.5, dash: [6, 4] },
          title: { display: true, text: 'Supply and return temperature (°C)', font: yTitleFont, color: '#151515', padding: { top: side.yTitlePad, bottom: 0 } },
          afterFit: s => { s.width = side.yWidth; },
        },
      },
    },
    plugins: [insideLegend],
  };
}

new Chart(document.getElementById('leftChart'), makeConfig(leftSupply, leftReturn, leftSupplyTrend, leftReturnTrend, {
  padding: { left: 0, top: 64, right: 937, bottom: 0 },
  yWidth: 155, yTitlePad: 58.5, legendX: 485,
}));

new Chart(document.getElementById('rightChart'), makeConfig(rightSupply, rightReturn, rightSupplyTrend, rightReturnTrend, {
  padding: { left: 900, top: 64, right: 56, bottom: 0 },
  yWidth: 147, yTitlePad: 47, legendX: 460,
}));
</script>
</body>
</html>
